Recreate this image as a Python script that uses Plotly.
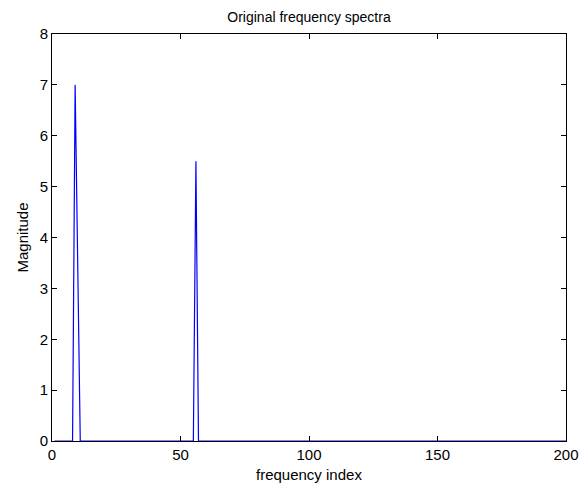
import plotly.graph_objects as go

# frequency index (1-based) and magnitude
freq_index = list(range(1, 201))
peak_index = [9, 10, 56]
peak_value = [7.0, 3.4, 5.5]

magnitude = [0.0] * len(freq_index)
for i, v in zip(peak_index, peak_value):
    magnitude[freq_index.index(i)] = v

x_ticks = [0, 50, 100, 150, 200]
y_ticks = [0, 1, 2, 3, 4, 5, 6, 7, 8]

W, H = 579, 477  # page body has an 8px margin
L, R, T, B = 44, 21, 26, 44

fig = go.Figure()
fig.add_trace(go.Scatter(x=freq_index, y=magnitude, mode="lines",
                         line=dict(color="#0000ff", width=1.2), showlegend=False))

axis_common = dict(showgrid=False, zeroline=False, showline=True, linecolor="black",
                   linewidth=1, mirror="ticks", ticks="inside", ticklen=5,
                   tickcolor="black", tickfont=dict(size=15, color="black"),
                   automargin=False)

fig.update_layout(
    width=W, height=H,
    margin=dict(l=L, r=R, t=T, b=B),
    paper_bgcolor="white", plot_bgcolor="white",
    font=dict(family="Liberation Sans, Arial, sans-serif", color="black"),
    title=dict(text="Original frequency spectra", x=(L + (W - L - R) / 2) / W, xanchor="center",
               y=1 - 9 / H, yanchor="middle", font=dict(size=14)),
    xaxis=dict(range=[0, 200], tickvals=x_ticks, **axis_common),
    yaxis=dict(range=[0, 8], tickvals=y_ticks, **axis_common),
    annotations=[
        dict(text="frequency index", xref="paper", yref="paper", x=0.5, y=0,
             xanchor="center", yanchor="middle", yshift=-33, showarrow=False,
             font=dict(size=15)),
        dict(text="Magnitude", xref="paper", yref="paper", x=0, y=0.5,
             xanchor="center", yanchor="middle", xshift=-30, textangle=-90,
             showarrow=False, font=dict(size=15)),
    ],
)

fig.write_html("out.html")
